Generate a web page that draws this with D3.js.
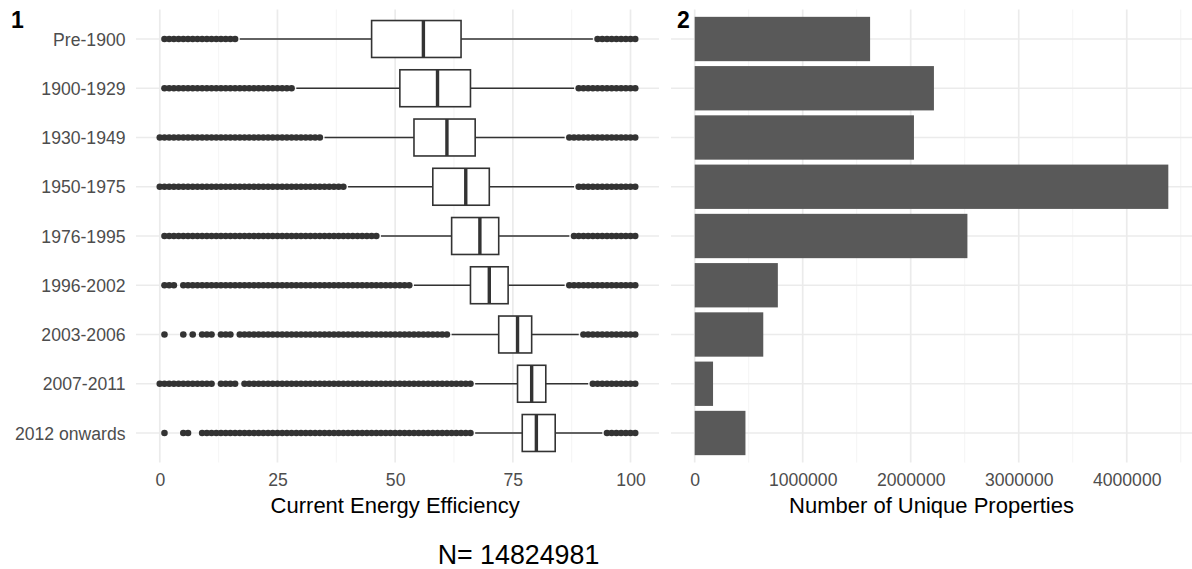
<!DOCTYPE html>
<html>
<head>
<meta charset="utf-8">
<script src="https://cdn.jsdelivr.net/npm/d3@7"></script>
<style>
  html, body { margin: 0; padding: 0; background: #ffffff; }
  svg { display: block; }
  text { font-family: "Liberation Sans", Arial, sans-serif; }
</style>
</head>
<body>
<svg id="chart" width="1192" height="569"></svg>
<script>
// ---------- data ----------
const categories = ["Pre-1900", "1900-1929", "1930-1949", "1950-1975", "1976-1995",
                    "1996-2002", "2003-2006", "2007-2011", "2012 onwards"];
const q1Values      = [45, 51, 54, 58, 62, 66, 72, 76, 77];
const medianValues  = [56, 59, 61, 65, 68, 70, 76, 79, 80];
const q3Values      = [64, 66, 67, 70, 72, 74, 79, 82, 84];
const whiskerLow    = [17, 29, 35, 40, 47, 54, 62, 67, 67];
const whiskerHigh   = [92, 88, 86, 88, 87, 86, 89, 91, 94];
// outliers: inclusive runs of integer scores
const outlierRuns = [
  [[1, 16], [93, 101]],
  [[1, 28], [89, 101]],
  [[0, 34], [87, 101]],
  [[0, 39], [89, 101]],
  [[1, 46], [88, 101]],
  [[1, 3], [5, 53], [87, 101]],
  [[1, 1], [5, 5], [7, 7], [9, 11], [13, 15], [17, 61], [90, 101]],
  [[0, 11], [13, 16], [18, 66], [92, 101]],
  [[1, 1], [5, 6], [9, 66], [95, 101]]
];
const propertyCounts = [1624000, 2215000, 2030000, 4385000, 2525000, 770000, 635000, 170000, 470000];
const effTicks = [0, 25, 50, 75, 100];
const effMinor = [12.5, 37.5, 62.5, 87.5];
const countTicks = [0, 1000000, 2000000, 3000000, 4000000];
const countMinor = [500000, 1500000, 2500000, 3500000, 4500000];
const totalN = 14824981;

// ---------- layout ----------
const svg = d3.select("#chart");
svg.append("rect").attr("width", 1192).attr("height", 569).attr("fill", "#ffffff");

const panelTop = 9.5, panelBottom = 462.5;
const y = d3.scalePoint().domain(categories).range([39, 433]);
const step = y.step();

const gridMajor = "#ebebeb", gridMinor = "#f3f3f3";
const ink = "#333333";

// ---------- panel 1: boxplots ----------
const xL = d3.scaleLinear().domain([-5.05, 106.05]).range([136, 659]);
const p1 = svg.append("g");

p1.selectAll("line.minor").data(effMinor).enter().append("line")
  .attr("x1", d => xL(d)).attr("x2", d => xL(d))
  .attr("y1", panelTop).attr("y2", panelBottom)
  .attr("stroke", gridMinor).attr("stroke-width", 0.9);
p1.selectAll("line.major").data(effTicks).enter().append("line")
  .attr("x1", d => xL(d)).attr("x2", d => xL(d))
  .attr("y1", panelTop).attr("y2", panelBottom)
  .attr("stroke", gridMajor).attr("stroke-width", 1.7);
p1.selectAll("line.hgrid").data(categories).enter().append("line")
  .attr("x1", 136).attr("x2", 659)
  .attr("y1", d => y(d)).attr("y2", d => y(d))
  .attr("stroke", gridMajor).attr("stroke-width", 1.7);

const boxH = step * 0.75;
categories.forEach((c, i) => {
  const cy = y(c);
  const g = p1.append("g");
  // whiskers
  g.append("line").attr("x1", xL(whiskerLow[i])).attr("x2", xL(q1Values[i]))
    .attr("y1", cy).attr("y2", cy).attr("stroke", ink).attr("stroke-width", 1.6);
  g.append("line").attr("x1", xL(q3Values[i])).attr("x2", xL(whiskerHigh[i]))
    .attr("y1", cy).attr("y2", cy).attr("stroke", ink).attr("stroke-width", 1.6);
  // outliers
  const pts = [];
  outlierRuns[i].forEach(r => { for (let v = r[0]; v <= r[1]; v++) pts.push(v); });
  g.selectAll("circle").data(pts).enter().append("circle")
    .attr("cx", d => xL(d)).attr("cy", cy).attr("r", 3.3).attr("fill", ink);
  // box
  g.append("rect").attr("x", xL(q1Values[i])).attr("y", cy - boxH / 2)
    .attr("width", xL(q3Values[i]) - xL(q1Values[i])).attr("height", boxH)
    .attr("fill", "#ffffff").attr("stroke", ink).attr("stroke-width", 1.6);
  g.append("line").attr("x1", xL(medianValues[i])).attr("x2", xL(medianValues[i]))
    .attr("y1", cy - boxH / 2).attr("y2", cy + boxH / 2)
    .attr("stroke", ink).attr("stroke-width", 3.4);
});

// axes (text only)
const axL = d3.axisBottom(xL).tickValues(effTicks).tickSize(0).tickPadding(0);
const gxL = svg.append("g").attr("transform", `translate(0,${473})`).call(axL);
gxL.select(".domain").remove();
gxL.selectAll("text").attr("fill", "#4d4d4d").attr("font-size", 17.6)
  .attr("dy", "0.71em").attr("y", 0);

const axY = d3.axisLeft(y).tickSize(0).tickPadding(0);
const gy = svg.append("g").attr("transform", `translate(125.5,0)`).call(axY);
gy.select(".domain").remove();
gy.selectAll("text").attr("fill", "#4d4d4d").attr("font-size", 17.6).attr("dy", "0.35em");

svg.append("text").attr("x", xL(50)).attr("y", 512.5).attr("text-anchor", "middle")
  .attr("font-size", 22).attr("fill", "#000").text("Current Energy Efficiency");

// ---------- panel 2: bars ----------
const maxC = d3.max(propertyCounts);
const xR = d3.scaleLinear().domain([-0.05 * maxC, 1.05 * maxC]).range([671, 1192]);
const p2 = svg.append("g");
p2.selectAll("line.minor").data(countMinor).enter().append("line")
  .attr("x1", d => xR(d)).attr("x2", d => xR(d))
  .attr("y1", panelTop).attr("y2", panelBottom)
  .attr("stroke", gridMinor).attr("stroke-width", 0.9);
p2.selectAll("line.major").data(countTicks).enter().append("line")
  .attr("x1", d => xR(d)).attr("x2", d => xR(d))
  .attr("y1", panelTop).attr("y2", panelBottom)
  .attr("stroke", gridMajor).attr("stroke-width", 1.7);
p2.selectAll("line.hgrid").data(categories).enter().append("line")
  .attr("x1", 671).attr("x2", 1192)
  .attr("y1", d => y(d)).attr("y2", d => y(d))
  .attr("stroke", gridMajor).attr("stroke-width", 1.7);

const barH = step * 0.9;
p2.selectAll("rect.bar").data(categories).enter().append("rect")
  .attr("x", xR(0)).attr("y", d => y(d) - barH / 2)
  .attr("width", (d, i) => xR(propertyCounts[i]) - xR(0))
  .attr("height", barH).attr("fill", "#595959");

const axR = d3.axisBottom(xR).tickValues(countTicks).tickSize(0).tickPadding(0)
  .tickFormat(d3.format("d"));
const gxR = svg.append("g").attr("transform", `translate(0,${473})`).call(axR);
gxR.select(".domain").remove();
gxR.selectAll("text").attr("fill", "#4d4d4d").attr("font-size", 17.6)
  .attr("dy", "0.71em").attr("y", 0);

svg.append("text").attr("x", (671 + 1192) / 2).attr("y", 512.5).attr("text-anchor", "middle")
  .attr("font-size", 22).attr("fill", "#000").text("Number of Unique Properties");

// ---------- panel tags & caption ----------
svg.append("text").attr("x", 11).attr("y", 28).attr("font-size", 23).attr("font-weight", "bold")
  .attr("fill", "#000").text("1");
svg.append("text").attr("x", 677).attr("y", 28).attr("font-size", 23).attr("font-weight", "bold")
  .attr("fill", "#000").text("2");
svg.append("text").attr("x", 518.5).attr("y", 563.5).attr("text-anchor", "middle")
  .attr("font-size", 26.8).attr("fill", "#000").text("N= " + totalN);
</script>
</body>
</html>
